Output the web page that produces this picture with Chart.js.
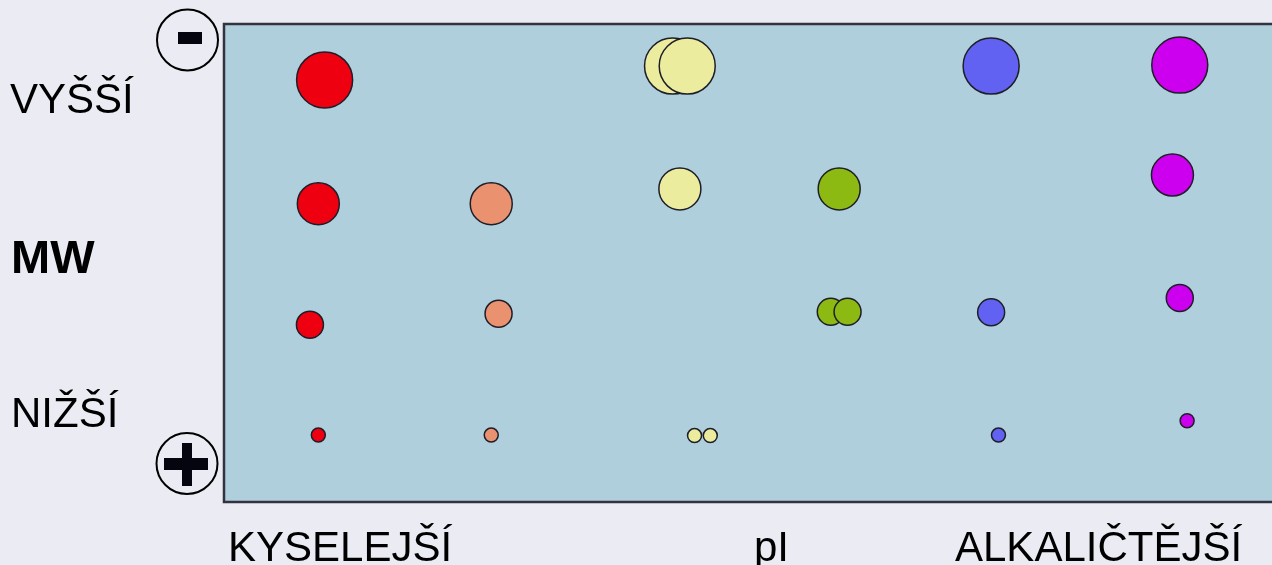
<!DOCTYPE html>
<html>
<head>
<meta charset="utf-8">
<script src="https://cdn.jsdelivr.net/npm/chart.js@4"></script>
<style>
  html, body { margin: 0; padding: 0; background: #ebebf4; overflow: hidden; }
  #wrap { width: 1272px; height: 565px; }
</style>
</head>
<body>
<div id="wrap"><canvas id="canvas"></canvas></div>
<script>
// pI scale 0..100 (acidic -> alkaline), MW scale 0..100 (low -> high)
var redSpots    = [{x: 9.6, y: 88.3, r: 28}, {x: 9.0, y: 62.4, r: 21}, {x: 8.2, y: 37.1, r: 13.5}, {x: 9.0, y: 14.0, r: 7}];
var salmonSpots = [{x: 25.5, y: 62.4, r: 21}, {x: 26.2, y: 39.4, r: 13.5}, {x: 25.5, y: 14.0, r: 7}];
var yellowSpots = [{x: 42.8, y: 91.2, r: 28}, {x: 44.2, y: 91.2, r: 28}, {x: 43.5, y: 65.5, r: 21}, {x: 44.9, y: 13.9, r: 7}, {x: 46.4, y: 13.9, r: 7}];
var greenSpots  = [{x: 58.7, y: 65.5, r: 21}, {x: 57.9, y: 39.8, r: 13.5}, {x: 59.5, y: 39.8, r: 13.5}];
var blueSpots   = [{x: 73.2, y: 91.2, r: 28}, {x: 73.2, y: 39.7, r: 13.5}, {x: 73.9, y: 14.0, r: 7}];
var purpleSpots = [{x: 91.2, y: 91.4, r: 28}, {x: 90.5, y: 68.4, r: 21}, {x: 91.2, y: 42.7, r: 13.5}, {x: 91.9, y: 17.0, r: 7}];

var mwLabels = ['VYŠŠÍ', 'MW', 'NIŽŠÍ'];
var piLabels = ['KYSELEJŠÍ', 'pI', 'ALKALIČTĚJŠÍ'];

function spots(data, color) {
    return {
        data: data,
        backgroundColor: color,
        borderColor: '#1e1e28',
        borderWidth: 1.5,
        hoverRadius: 0
    };
}

// plot background, frame, side labels and the -/+ markers
var gelPlugin = {
    id: 'gel',
    beforeDatasetsDraw: function(chart) {
        var c = chart.ctx, a = chart.chartArea;
        c.save();
        c.fillStyle = '#afcfdd';
        c.fillRect(a.left, a.top, a.right - a.left, a.bottom - a.top);
        c.strokeStyle = '#33333d';
        c.lineWidth = 2.5;
        c.beginPath();
        c.moveTo(a.right + 5, a.top);
        c.lineTo(a.left, a.top);
        c.lineTo(a.left, a.bottom);
        c.lineTo(a.right + 5, a.bottom);
        c.stroke();
        c.restore();
    },
    afterDraw: function(chart) {
        var c = chart.ctx;
        c.save();
        c.fillStyle = '#000';
        c.textBaseline = 'alphabetic';
        c.textAlign = 'left';
        c.font = '42px "Liberation Sans", Arial, sans-serif';
        c.fillText(mwLabels[0], 10, 113);
        c.fillText(mwLabels[2], 11, 427);
        c.font = 'bold 47px "Liberation Sans", Arial, sans-serif';
        c.fillText(mwLabels[1], 11, 273);
        c.font = '42px "Liberation Sans", Arial, sans-serif';
        c.fillText(piLabels[0], 228, 561);
        c.fillText(piLabels[1], 754, 561);
        c.fillText(piLabels[2], 955, 561);

        // minus / plus electrodes
        c.strokeStyle = '#000';
        c.lineWidth = 2;
        c.beginPath();
        c.arc(187.5, 40, 30.5, 0, Math.PI * 2);
        c.stroke();
        c.beginPath();
        c.arc(187, 463.5, 30.5, 0, Math.PI * 2);
        c.stroke();
        c.fillStyle = '#050510';
        c.fillRect(178, 32, 24, 12);
        c.fillRect(182, 443, 10, 43);
        c.fillRect(164, 458, 44, 12);
        c.restore();
    }
};

window.onload = function() {
    var ctx = document.getElementById('canvas').getContext('2d');
    window.myBubble = new Chart(ctx, {
        type: 'bubble',
        data: {
            datasets: [
                spots(redSpots, '#ee0010'),
                spots(salmonSpots, '#ea916f'),
                spots(yellowSpots, '#ecec9e'),
                spots(greenSpots, '#8dba12'),
                spots(blueSpots, '#6262f2'),
                spots(purpleSpots, '#cc00ee')
            ]
        },
        options: {
            responsive: true,
            maintainAspectRatio: false,
            animation: false,
            layout: {
                autoPadding: false,
                padding: { left: 224, top: 24, right: 0, bottom: 63 }
            },
            scales: {
                x: { type: 'linear', min: 0, max: 100, display: false },
                y: { type: 'linear', min: 0, max: 100, display: false }
            },
            plugins: {
                legend: { display: false },
                tooltip: { enabled: false }
            }
        },
        plugins: [gelPlugin]
    });
};
</script>
</body>
</html>
